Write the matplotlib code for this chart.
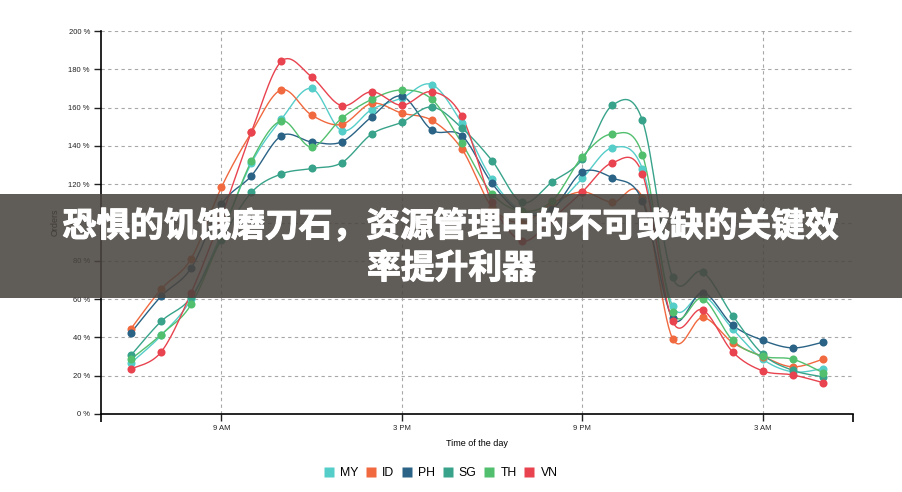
import numpy as np
import matplotlib
matplotlib.use('Agg')
import matplotlib.pyplot as plt
import matplotlib.patheffects as pe
from matplotlib.patches import Rectangle
from matplotlib.lines import Line2D

# hours of the day (6 AM .. 5 AM next day, 24 = midnight)
hours = list(range(6, 30))
countries = ['MY', 'ID', 'PH', 'SG', 'TH', 'VN']
colors = ['#55CDC9', '#F0693F', '#2A6385', '#38A38A', '#52BF6E', '#E8434F']

my = [26.7, 41, 60, 94, 131, 154, 170, 148, 159, 165, 172, 151.8, 122.5, 106, 108, 123, 139, 128, 56.5, 62, 44.4, 28.6, 22, 23.7]
id_ = [44.6, 65.2, 81.2, 118.3, 147, 169.3, 156.1, 151.2, 162.2, 157.1, 153.3, 138.3, 108, 100, 110, 116, 110.5, 113, 39.4, 50.4, 37.3, 30, 24.6, 28.6]
ph = [42.5, 61.5, 76.3, 109.4, 124.4, 145.3, 142.1, 142.1, 155.2, 166, 148.3, 145.3, 120.4, 105, 107, 126.3, 123.3, 111.3, 50, 63.4, 46.4, 38.5, 34.5, 37.5]
sg = [30.7, 48.4, 61, 91, 115.7, 125.4, 128.2, 131.2, 146.2, 152.3, 160.3, 149.3, 132.3, 110.5, 121.2, 133, 161.2, 153.3, 71.4, 74.2, 51.4, 31.2, 22.8, 19.4]
th = [28.7, 41.5, 57.3, 93, 132, 153.1, 139.4, 154.4, 164.3, 169.2, 164.3, 141.3, 115, 106, 111.3, 134.3, 146.2, 135.4, 53.5, 60.3, 38.5, 30.2, 28.6, 21.6]
vn = [23.5, 32.4, 63.4, 103, 147.2, 184.2, 176.1, 161, 168.3, 161.2, 168.3, 155.4, 110.5, 90.4, 102, 116, 131.2, 125.4, 48.5, 54.4, 32.4, 22.5, 20.4, 16.4]
series = [my, id_, ph, sg, th, vn]

x_ticks = [9, 15, 21, 27]
x_labels = ['9 AM', '3 PM', '9 PM', '3 AM']
y_ticks = list(range(0, 201, 20))

title_lines = ['恐惧的饥饿磨刀石，资源管理中的不可或缺的关键效', '率提升利器']


def cardinal(x, y, n=16):
    # catmull-rom style smoothing through the points (like d3 curveCardinal)
    x = np.asarray(x, float)
    y = np.asarray(y, float)
    px = np.concatenate([[x[0]], x, [x[-1]]])
    py = np.concatenate([[y[0]], y, [y[-1]]])
    xs, ys = [], []
    t = np.linspace(0, 1, n, endpoint=False)
    h00 = 2 * t**3 - 3 * t**2 + 1
    h10 = t**3 - 2 * t**2 + t
    h01 = -2 * t**3 + 3 * t**2
    h11 = t**3 - t**2
    for i in range(1, len(px) - 2):
        mx0 = (px[i + 1] - px[i - 1]) / 2
        mx1 = (px[i + 2] - px[i]) / 2
        my0 = (py[i + 1] - py[i - 1]) / 2
        my1 = (py[i + 2] - py[i]) / 2
        xs.append(h00 * px[i] + h10 * mx0 + h01 * px[i + 1] + h11 * mx1)
        ys.append(h00 * py[i] + h10 * my0 + h01 * py[i + 1] + h11 * my1)
    xs.append([x[-1]])
    ys.append([y[-1]])
    return np.concatenate(xs), np.concatenate(ys)


plt.rcParams['font.family'] = ['Liberation Sans', 'DejaVu Sans']

fig = plt.figure(figsize=(9.03, 4.92), dpi=100)
ax = fig.add_axes([101 / 903, 1 - 414 / 492, 752 / 903, 383 / 492])

ax.set_xlim(5, 30)
ax.set_ylim(0, 200)

# dashed grid
for v in y_ticks:
    ax.axhline(v, color='#a8a8a8', lw=0.8, ls=(0, (3, 3)), zorder=1)
for v in x_ticks:
    ax.axvline(v, color='#a8a8a8', lw=0.8, ls=(0, (3, 3)), zorder=1)

for vals, c in zip(series, colors):
    sx, sy = cardinal(hours, vals)
    ax.plot(sx, sy, color=c, lw=1.0, zorder=3)
    ax.plot(hours, vals, 'o', color=c, ms=5.8, mec='none', zorder=4)

ax.spines['top'].set_visible(False)
ax.spines['right'].set_visible(False)
ax.spines['left'].set_linewidth(1.2)
ax.spines['bottom'].set_linewidth(1.2)

ax.set_yticks(y_ticks)
ax.set_yticklabels([f'{v} %' for v in y_ticks])
ax.set_xticks(x_ticks)
ax.set_xticklabels(x_labels)
ax.set_xticks([5, 30], minor=True)
ax.tick_params(axis='both', which='major', labelsize=5.5, length=5, width=1, pad=3, colors='#222222')
ax.tick_params(axis='x', which='minor', length=6, width=1.2)

ax.set_xlabel('Time of the day', fontsize=6.5, labelpad=5)
ax.set_ylabel('Orders', fontsize=6.5, labelpad=6)

handles = [Line2D([], [], marker='s', ls='none', ms=7.5, color=c, mec='none') for c in colors]
fig.legend(handles, countries, loc='center', bbox_to_anchor=(440 / 903, 1 - 473.5 / 492),
           ncol=6, frameon=False, fontsize=8.8, handletextpad=0.4, columnspacing=0.55,
           handlelength=1.0)

# title banner over the chart
fig.patches.append(Rectangle((0, 1 - 298 / 492), 1, 104 / 492, transform=fig.transFigure,
                             facecolor='#4a4540', alpha=0.88, edgecolor='none', zorder=5))
cjk = ['Noto Sans CJK SC', 'DejaVu Sans']
thick = [pe.withStroke(linewidth=0.8, foreground='white')]
fig.text(0.499, 1 - 226 / 492, title_lines[0], ha='center', va='center', color='white',
         fontsize=24.3, fontweight='bold', family=cjk, zorder=6, path_effects=thick)
fig.text(0.5, 1 - 268 / 492, title_lines[1], ha='center', va='center', color='white',
         fontsize=24.3, fontweight='bold', family=cjk, zorder=6, path_effects=thick)

fig.savefig('out.png', dpi=100)
